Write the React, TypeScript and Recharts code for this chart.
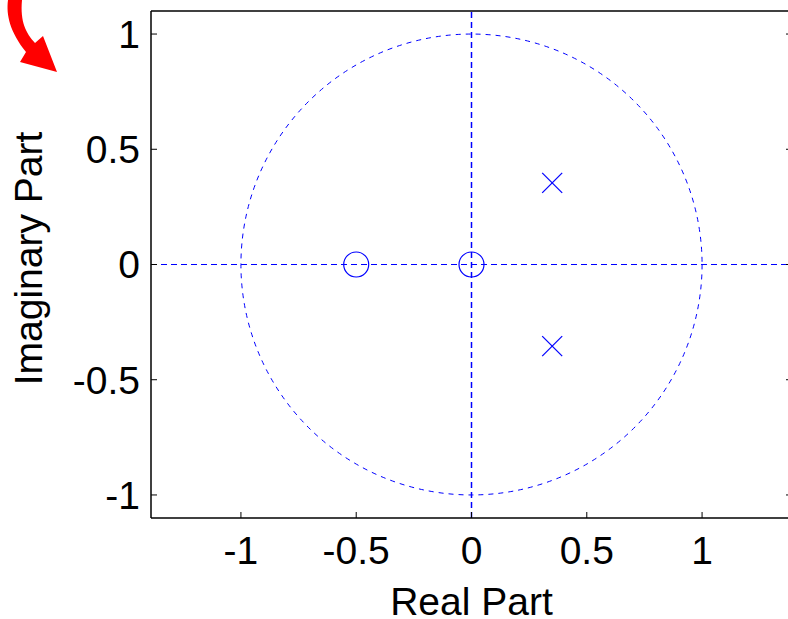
import React from 'react';
import {
  ScatterChart,
  Scatter,
  XAxis,
  YAxis,
  ReferenceLine,
  ReferenceArea,
} from 'recharts';

// zeros and poles
const zerosReal = [-0.5, 0];
const zerosImag = [0, 0];
const polesReal = [0.35, 0.35];
const polesImag = [0.354, -0.354];

const xTicks = [-1, -0.5, 0, 0.5, 1];
const yTicks = [-1, -0.5, 0, 0.5, 1];
const xDomain = [-1.39, 1.39];
const yDomain = [-1.1, 1.1];

const BLUE = '#0000ff';
const FONT = '"Liberation Sans", Arial, sans-serif';

const zeros = zerosReal.map((re, i) => ({ re, im: zerosImag[i] }));
const poles = polesReal.map((re, i) => ({ re, im: polesImag[i] }));

const tickStyle = { fontSize: 39, fill: '#000', fontFamily: FONT };

const ZeroMarker = (props: any) => (
  <circle cx={props.cx} cy={props.cy} r={12.5} fill="none" stroke={BLUE} strokeWidth={1.2} />
);

const PoleMarker = (props: any) => {
  const { cx, cy } = props;
  const s = 10;
  return (
    <g stroke={BLUE} strokeWidth={1.2}>
      <line x1={cx - s} y1={cy - s} x2={cx + s} y2={cy + s} />
      <line x1={cx - s} y1={cy + s} x2={cx + s} y2={cy - s} />
    </g>
  );
};

const UnitCircle = (props: any) => {
  const { x, y, width, height } = props;
  return (
    <ellipse
      cx={x + width / 2}
      cy={y + height / 2}
      rx={width / 2}
      ry={height / 2}
      fill="none"
      stroke={BLUE}
      strokeWidth={1}
      strokeDasharray="5 5"
    />
  );
};

const YLabel = (props: any) => {
  const vb = props.viewBox || { x: 0, y: 11, height: 507 };
  const x = vb.x + 42;
  const y = vb.y + vb.height / 2 - 6;
  return (
    <text
      x={x}
      y={y}
      transform={`rotate(-90 ${x} ${y})`}
      textAnchor="middle"
      fontSize={39}
      fontFamily={FONT}
      fill="#000"
    >
      Imaginary Part
    </text>
  );
};

const XLabel = (props: any) => {
  const vb = props.viewBox || { x: 151, y: 518, width: 641 };
  return (
    <text
      x={vb.x + vb.width / 2}
      y={vb.y + 97}
      textAnchor="middle"
      fontSize={39}
      fontFamily={FONT}
      fill="#000"
    >
      Real Part
    </text>
  );
};

export default function App() {
  return (
    <div
      style={{
        position: 'absolute',
        left: 0,
        top: 0,
        width: 788,
        height: 619,
        overflow: 'hidden',
        background: '#fff',
      }}
    >
      <ScatterChart
        width={800}
        height={619}
        margin={{ top: 10, right: 7, bottom: 0, left: 0 }}
      >
        <XAxis
          type="number"
          dataKey="re"
          domain={xDomain}
          ticks={xTicks}
          allowDataOverflow
          height={101}
          tick={tickStyle}
          tickSize={-6}
          tickMargin={24}
          tickLine={{ stroke: '#000', strokeWidth: 1 }}
          axisLine={{ stroke: '#000', strokeWidth: 1.5 }}
          label={<XLabel />}
        />
        <XAxis
          xAxisId="top"
          orientation="top"
          type="number"
          domain={xDomain}
          ticks={xTicks}
          allowDataOverflow
          height={1}
          tickFormatter={() => ''}
          tickSize={-6}
          tickLine={{ stroke: '#000', strokeWidth: 1 }}
          axisLine={{ stroke: '#000', strokeWidth: 1.5 }}
        />
        <YAxis
          type="number"
          dataKey="im"
          domain={yDomain}
          ticks={yTicks}
          allowDataOverflow
          width={151}
          tick={tickStyle}
          tickSize={-6}
          tickMargin={17}
          tickLine={{ stroke: '#000', strokeWidth: 1 }}
          axisLine={{ stroke: '#000', strokeWidth: 1.5 }}
          label={<YLabel />}
        />
        <YAxis
          yAxisId="right"
          orientation="right"
          type="number"
          domain={yDomain}
          ticks={yTicks}
          allowDataOverflow
          width={1}
          tickFormatter={() => ''}
          tickSize={-6}
          tickLine={{ stroke: '#000', strokeWidth: 1 }}
          axisLine={{ stroke: '#000', strokeWidth: 1.5 }}
        />
        <ReferenceArea
          x1={-1}
          x2={1}
          y1={-1}
          y2={1}
          fill="none"
          stroke="none"
          shape={UnitCircle}
        />
        <ReferenceLine x={0} stroke={BLUE} strokeWidth={1.5} strokeDasharray="6 4" />
        <ReferenceLine y={0} stroke={BLUE} strokeWidth={1} strokeDasharray="6 4" />
        <Scatter data={zeros} shape={ZeroMarker} isAnimationActive={false} />
        <Scatter data={poles} shape={PoleMarker} isAnimationActive={false} />
      </ScatterChart>
      <svg
        width={70}
        height={80}
        style={{ position: 'absolute', left: 0, top: 0 }}
      >
        <path
          d="M8,0 C6,15 10,32 26,52 L20,62 L57,72 L43,36 L35,43 C26,33 20,22 22,0 Z"
          fill="#ff0000"
        />
      </svg>
    </div>
  );
}
